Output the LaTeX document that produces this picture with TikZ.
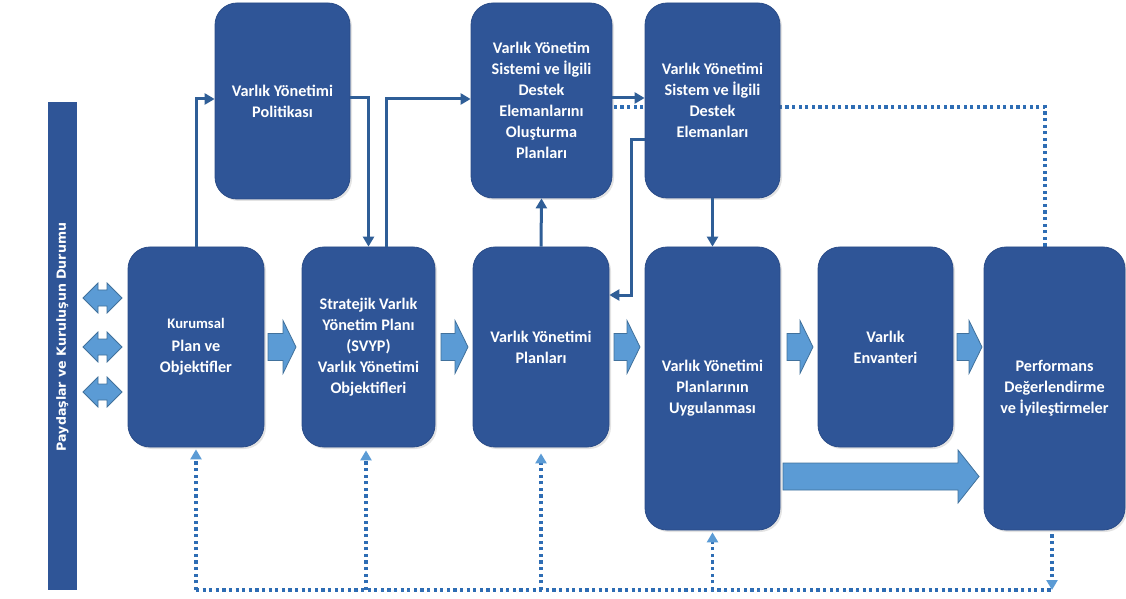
\documentclass[tikz,border=0pt]{standalone}
\usepackage{fontspec}
\setmainfont{Carlito}
\newfontfamily\barfont{DejaVu Sans}
\usetikzlibrary{arrows.meta,shadows,backgrounds,calc}
\definecolor{boxblue}{HTML}{2F5597}
\definecolor{boxedge}{HTML}{2A4C88}
\definecolor{lightblue}{HTML}{5B9BD5}
\definecolor{lightedge}{HTML}{41719C}
\definecolor{dotblue}{HTML}{2E6DB4}
\definecolor{connblue}{HTML}{2F5E97}
\newcommand\myBarrow[6]{%
  \draw[barrow] (#1,#3-#4) -- (#2-#6,#3-#4) -- (#2-#6,#3-#5) -- (#2,#3) -- (#2-#6,#3+#5) -- (#2-#6,#3+#4) -- (#1,#3+#4) -- cycle;}
\newcommand\myDarrow[1]{%
  \draw[barrow] (83,#1) -- (98,#1-15) -- (98,#1-8) -- (107,#1-8) -- (107,#1-15) -- (122,#1) -- (107,#1+15) -- (107,#1+8) -- (98,#1+8) -- (98,#1+15) -- cycle;}
\begin{document}
\begin{tikzpicture}[x=0.5pt,y=-0.5pt,
  box/.style={fill=boxblue, draw=boxedge, line width=0.4pt, rounded corners=11pt,
    inner sep=1pt, text=white, align=center,
    font=\fontsize{8.1}{10.5}\selectfont\bfseries,
    drop shadow={opacity=0.22, shadow xshift=1pt, shadow yshift=-1pt}},
  barrow/.style={fill=lightblue, draw=lightedge, line width=0.4pt},
  conn/.style={draw=connblue, line width=1.5pt, -{Triangle[length=5pt,width=5.5pt]}},
  dotline/.style={draw=dotblue, line width=1.7pt, dash pattern=on 1.6pt off 1.7pt},
  dotarrow/.style={dotline, -{Triangle[length=5pt,width=5.5pt,fill=lightblue,color=lightblue]}}
  ]
\useasboundingbox (0,0) rectangle (1126,599);
% left bar
\node[fill=boxblue, minimum width=14.5pt, minimum height=244pt, inner sep=0pt] (bar) at (62.5,346) {};
\node[rotate=90, text=white, font=\barfont\bfseries\fontsize{6.3}{7}\selectfont] (bartext) at (62.5,337) {Paydaşlar ve Kuruluşun Durumu};
% boxes
\node[box, minimum width=68pt, minimum height=100pt] (kp) at (196,347)
  {{\fontsize{7.3}{10.5}\selectfont Kurumsal}\\[1pt] Plan ve\\ Objektifler};
\node[box, minimum width=66.5pt, minimum height=100pt] (svyp) at (368.5,347)
  {Stratejik Varlık\\ Yönetim Planı\\ (SVYP)\\ Varlık Yönetimi\\ Objektifleri};
\node[box, minimum width=68pt, minimum height=100pt] (vyp) at (541,347)
  {Varlık Yönetimi\\ Planları};
\node[box, minimum width=67.5pt, minimum height=141.5pt] (uyg) at (712.5,388.5)
  {Varlık Yönetimi\\ Planlarının\\ Uygulanması};
\node[box, minimum width=67.5pt, minimum height=100pt] (env) at (885.5,347)
  {Varlık\\ Envanteri};
\node[box, minimum width=70.5pt, minimum height=141.5pt] (perf) at (1054.5,388.5)
  {Performans\\ Değerlendirme\\ ve İyileştirmeler};
\node[box, minimum width=67.5pt, minimum height=98pt] (pol) at (282.5,101)
  {Varlık Yönetimi\\ Politikası};
\node[box, minimum width=70.5pt, minimum height=97.5pt] (vsp) at (541.5,100.5)
  {Varlık Yönetim\\ Sistemi ve İlgili\\ Destek\\ Elemanlarını\\ Oluşturma\\ Planları};
\node[box, minimum width=67.5pt, minimum height=97.5pt] (vse) at (712.5,100.5)
  {Varlık Yönetimi\\ Sistem ve İlgili\\ Destek\\ Elemanları};
% block arrows
\myDarrow{298}
\myDarrow{347}
\myDarrow{392}
\myBarrow{268}{296}{347}{13.5}{26.5}{13}
\myBarrow{441}{468}{347}{13.5}{26.5}{13}
\myBarrow{614}{640}{347}{13.5}{26.5}{13}
\myBarrow{787}{813}{347}{13.5}{26.5}{13}
\myBarrow{957}{982}{347}{13.5}{26.5}{13}
\myBarrow{783}{979}{476.5}{13.5}{26.5}{21}
% connectors
\coordinate (bl) at (196,590);
\coordinate (br) at (1052,590);
\begin{pgfonlayer}{background}
\draw[dotline] ([xshift=-4.75pt]perf.north) |- ([yshift=-3.25pt]vsp.east);
\draw[dotline] (bl) -- (br);
\end{pgfonlayer}
\draw[conn] (kp.north) |- ([yshift=1pt]pol.west);
\draw[conn] ([yshift=1.5pt]pol.east) -| (svyp.north);
\draw[conn] ([xshift=8.75pt]svyp.north) |- ([yshift=0.75pt]vsp.west);
\draw[conn] ([yshift=1.25pt]vsp.east) -- ([yshift=1.25pt]vse.west);
\draw[conn] ([yshift=-19.75pt]vse.west) -- ++(-13,0) |- ([yshift=26pt]vyp.east);
\draw[conn] (vse.south) -- (uyg.north);
\draw[conn] (vyp.north) -- (vsp.south);
\draw[dotarrow] (bl) -- ([yshift=-1pt]kp.south);
\draw[dotarrow] (svyp.south |- bl) ++(-2.5,0) -- ([xshift=-1.25pt,yshift=-1.5pt]svyp.south);
\draw[dotarrow] (vyp.south |- bl) -- ([yshift=-3pt]vyp.south);
\draw[dotarrow] (uyg.south |- bl) -- ([yshift=-1pt]uyg.south);
\draw[dotarrow] ([xshift=-1.25pt,yshift=-2pt]perf.south) -- (br);
\end{tikzpicture}
\end{document}
